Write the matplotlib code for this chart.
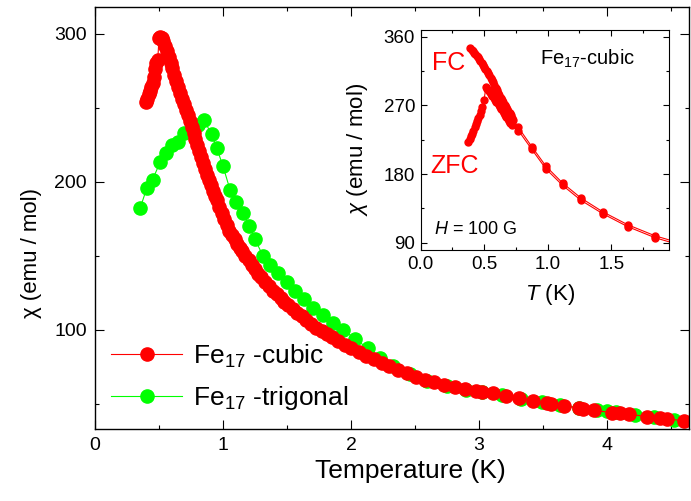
import matplotlib
matplotlib.use("Agg")
import matplotlib.pyplot as plt
from matplotlib.ticker import MultipleLocator, FormatStrFormatter

plt.rcParams["font.family"] = ["Liberation Sans", "DejaVu Sans"]
plt.rcParams["mathtext.fontset"] = "custom"
plt.rcParams["mathtext.rm"] = "Liberation Sans"
plt.rcParams["mathtext.it"] = "Liberation Sans:italic"

RED = "#ff0000"
GREEN = "#00ff00"

# main panel, Fe17-cubic (low-T branch then the curve after the jump)
cubic_t = [0.40, 0.41, 0.42, 0.43, 0.44, 0.45, 0.46, 0.47, 0.48, 0.49,
           0.500, 0.510, 0.520, 0.530, 0.545, 0.560, 0.575, 0.590, 0.605, 0.620,
           0.635, 0.650, 0.665, 0.680, 0.695, 0.710, 0.725, 0.740, 0.755, 0.770,
           0.785, 0.800, 0.815, 0.830, 0.845, 0.860, 0.875, 0.890, 0.905, 0.920,
           0.935, 0.950, 0.970, 0.990, 1.010, 1.030, 1.050, 1.070, 1.090, 1.110,
           1.130, 1.150, 1.175, 1.200, 1.225, 1.250, 1.275, 1.300, 1.330, 1.360,
           1.390, 1.420, 1.450, 1.480, 1.510, 1.545, 1.580, 1.615, 1.650, 1.690,
           1.730, 1.770, 1.810, 1.850, 1.900, 1.950, 2.000, 2.060, 2.120, 2.180,
           2.240, 2.300, 2.370, 2.440, 2.510, 2.580, 2.650, 2.730, 2.810, 2.890,
           2.980, 3.020, 3.110, 3.210, 3.310, 3.420, 3.530, 3.560, 3.660, 3.780,
           3.810, 3.900, 4.040, 4.100, 4.170, 4.310, 4.410, 4.470, 4.600]
cubic_chi = [254, 256, 259, 261, 264, 267, 271, 276, 280, 282,
             297, 298, 297, 295, 291.5, 288, 284.5, 280.5, 276.5, 272,
             268, 264, 260, 256, 252.5, 248.5, 245, 241, 237, 233,
             229, 224.5, 220.5, 216.5, 212.5, 208.5, 204.5, 201, 197.5, 194,
             190.5, 187.5, 183, 179, 175, 171, 167, 164, 161, 158,
             155.5, 153, 150, 147, 144, 141, 138, 135.5, 132.5, 129.5,
             126.5, 124, 121.5, 119, 116.5, 114, 111.5, 109, 106.5, 104,
             101.5, 99.5, 97, 95, 92.5, 90, 87.5, 85, 82.5, 80,
             77.5, 75.5, 73, 70.5, 68, 66, 64.5, 63, 61.5, 60,
             58.8, 58.3, 57.2, 55.5, 53.8, 52, 50.5, 50, 48.6, 47.1,
             46.8, 45.5, 44.1, 43.7, 43, 41.4, 40.7, 39.9, 38.5]

# main panel, Fe17-trigonal
trig_t = [0.352, 0.404, 0.450, 0.508, 0.555, 0.599, 0.651, 0.695, 0.755, 0.807,
          0.852, 0.911, 0.950, 1.000, 1.055, 1.100, 1.154, 1.205, 1.250, 1.315,
          1.370, 1.430, 1.500, 1.565, 1.630, 1.700, 1.780, 1.860, 1.940, 2.030,
          2.130, 2.230, 2.330, 2.460, 2.590, 2.750, 2.900, 3.020, 3.180, 3.330,
          3.490, 3.630, 3.780, 3.920, 4.000, 4.070, 4.220, 4.370, 4.520]
trig_chi = [182, 195.5, 201.5, 213, 219.5, 225, 227, 233, 236.5, 238.5,
            241.5, 232, 223, 210.5, 194.5, 186.5, 179, 170, 161, 149.5,
            144, 138.5, 132.5, 126, 120.5, 115, 110, 104.5, 100, 94,
            87.5, 81, 75.5, 70, 65.5, 62, 59.5, 58, 55.8, 53.5,
            51.5, 49.3, 47.5, 45.8, 44.9, 44.6, 42.5, 40.8, 39.2]

# inset, FC and ZFC at H = 100 G
fc_t = [0.39, 0.40, 0.41, 0.42, 0.43, 0.44, 0.45, 0.46, 0.47, 0.48,
        0.49, 0.50, 0.51, 0.52, 0.53, 0.54, 0.55, 0.56, 0.57, 0.58,
        0.59, 0.60, 0.61, 0.62, 0.63, 0.64, 0.65, 0.66, 0.67, 0.68,
        0.69, 0.70, 0.71, 0.72, 0.73,
        0.769, 0.874, 0.987, 1.118, 1.262, 1.433, 1.630, 1.845, 2.05]
fc_chi = [345, 343, 341, 339, 337, 335, 333, 331, 328.5, 326,
          323, 320, 317.5, 315, 312, 309.5, 306.5, 303, 300, 296.5,
          293, 290, 286.5, 283, 280, 277, 274, 271, 268, 265,
          262.5, 260, 257, 254, 251,
          241, 216, 190, 168, 148.5, 130.5, 113.5, 99, 89]

zfc_t = [0.375, 0.385, 0.395, 0.405, 0.415, 0.425, 0.435, 0.445, 0.455, 0.465,
         0.475, 0.485, 0.498, 0.514, 0.525, 0.535, 0.545, 0.555, 0.565, 0.575,
         0.585, 0.595, 0.605, 0.615, 0.625, 0.635, 0.645, 0.655, 0.665, 0.675,
         0.685, 0.695, 0.705, 0.720,
         0.769, 0.874, 0.987, 1.118, 1.262, 1.433, 1.630, 1.845, 2.05]
zfc_chi = [222.5, 226, 229.5, 233, 237, 241, 245, 249, 253.5, 258,
           263, 268, 277, 293.5, 291, 289, 287, 285, 282.5, 280,
           277.5, 275, 272.5, 270, 267.5, 265, 262.5, 260, 257.5, 255,
           252.5, 250, 247.5, 244,
           237, 212.5, 186.5, 165, 145.5, 128, 111, 96.5, 86.5]

fig = plt.figure(figsize=(6.91, 5.01), dpi=100)
ax = fig.add_axes([95 / 691, 1 - 429 / 501, 594 / 691, 422 / 501])

ax.plot(trig_t, trig_chi, color=GREEN, lw=0.8, marker="o", ms=9.5, mec=GREEN,
        label="Fe$_{17}$ -trigonal")
ax.plot(cubic_t, cubic_chi, color=RED, lw=0.8, marker="o", ms=9.5, mec=RED,
        label="Fe$_{17}$ -cubic")

ax.set_xlim(0, 4.64)
ax.set_ylim(33, 318)
ax.xaxis.set_major_locator(MultipleLocator(1))
ax.xaxis.set_minor_locator(MultipleLocator(0.5))
ax.yaxis.set_major_locator(MultipleLocator(100))
ax.yaxis.set_minor_locator(MultipleLocator(50))
ax.tick_params(which="both", direction="in", top=True, right=True, width=0.8, labelsize=14)
ax.tick_params(which="major", length=6.2, pad=6)
ax.tick_params(which="minor", length=3.1)
for s in ax.spines.values():
    s.set_linewidth(1.0)

ax.set_xlabel("Temperature (K)", fontsize=19)
ax.set_ylabel("χ (emu / mol)", fontsize=16)
ax.xaxis.set_label_coords((410 - 95) / 594, -0.072)
ax.yaxis.set_label_coords(-0.089, 0.417)

handles, labels = ax.get_legend_handles_labels()
ax.legend(handles[::-1], labels[::-1], loc="lower left", bbox_to_anchor=(0.027, 0.04),
          frameon=False, fontsize=19, handlelength=2.7, handletextpad=0.4,
          labelspacing=0.55, borderpad=0, borderaxespad=0)

# inset
ins = fig.add_axes([420.7 / 691, 1 - 250 / 501, 248.6 / 691, 220 / 501])
ins.plot(fc_t, fc_chi, color=RED, lw=0.8, marker="o", ms=5, mec=RED)
ins.plot(zfc_t, zfc_chi, color=RED, lw=0.8, marker="o", ms=5, mec=RED)
ins.set_xlim(0, 1.957)
ins.set_ylim(80.4, 368.8)
ins.xaxis.set_major_locator(MultipleLocator(0.5))
ins.xaxis.set_minor_locator(MultipleLocator(0.25))
ins.yaxis.set_major_locator(MultipleLocator(90))
ins.yaxis.set_minor_locator(MultipleLocator(45))
ins.xaxis.set_major_formatter(FormatStrFormatter("%.1f"))
ins.tick_params(which="both", direction="in", top=True, right=True, width=0.8, labelsize=13.5)
ins.tick_params(which="major", length=4.5, pad=4)
ins.tick_params(which="minor", length=2.5)
for s in ins.spines.values():
    s.set_linewidth(0.8)
ins.set_xlabel("$T$ (K)", fontsize=16)
ins.set_ylabel("$\\chi$ (emu / mol)", fontsize=16)
ins.xaxis.set_label_coords(0.52, -0.145)
ins.yaxis.set_label_coords(-0.204, 0.459)

ins.text(0.087, 316, "FC", color=RED, fontsize=18)
ins.text(0.073, 181, "ZFC", color=RED, fontsize=18)
ins.text(0.94, 323, "Fe$_{17}$-cubic", color="black", fontsize=14.5)
ins.text(0.105, 101, "$H$ = 100 G", color="black", fontsize=13)

fig.savefig("out.png", dpi=100)
